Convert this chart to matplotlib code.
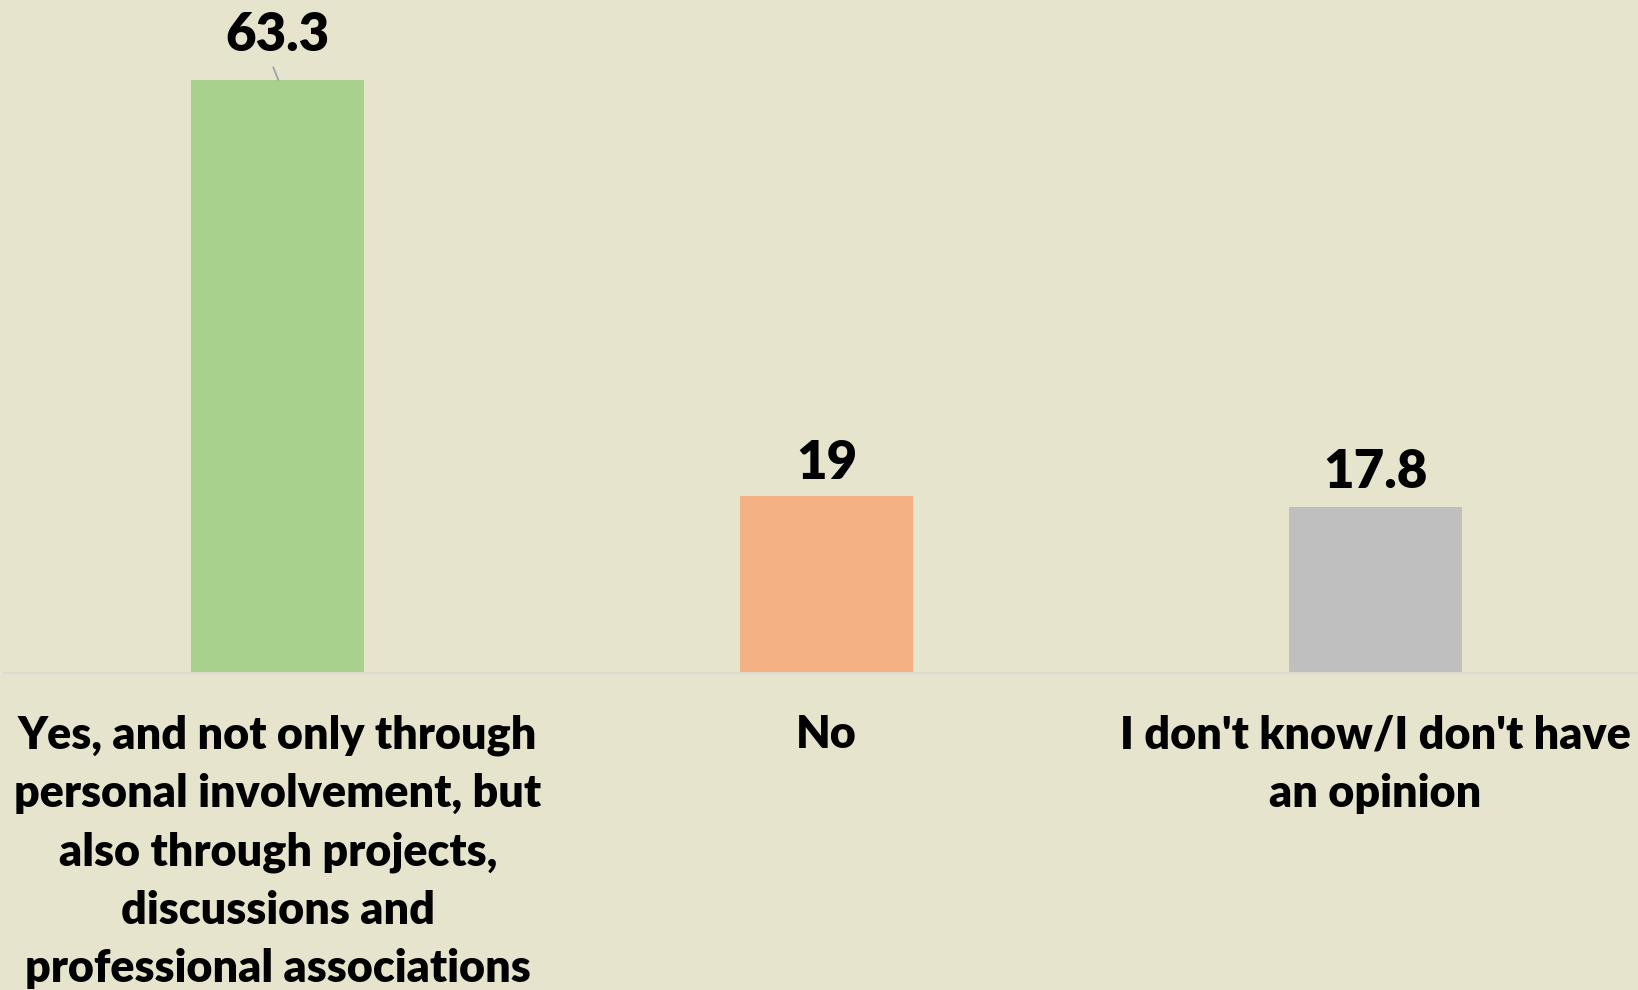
import matplotlib.pyplot as plt

# data
categories = ["Yes, and not only through\npersonal involvement, but\nalso through projects,\ndiscussions and\nprofessional associations",
              "No",
              "I don't know/I don't have\nan opinion"]
values = [63.3, 19, 17.8]
value_labels = ["63.3", "19", "17.8"]
colors = ["#A9D18E", "#F4B183", "#BFBFBF"]

bg = "#E6E4CC"
plt.rcParams['font.family'] = ['Lato', 'DejaVu Sans']

fig = plt.figure(figsize=(16.38, 9.9), dpi=100, facecolor=bg)
ax = fig.add_axes([0.002, 0.319, 0.998, 0.664])
ax.set_facecolor(bg)

x = list(range(len(values)))
ax.bar(x, values, width=0.315, color=colors, zorder=2)

ax.set_xlim(-0.5, -0.5 + 1635 / 549)
ax.set_ylim(0, 70)
ax.axhline(0, color="#DCDAD0", lw=3, zorder=3)

for s in ax.spines.values():
    s.set_visible(False)
ax.set_xticks([])
ax.set_yticks([])

# value labels (first one pulled up with a leader line)
offsets = [32, 23, 25]
for xi, v, lab, off in zip(x, values, value_labels, offsets):
    ax.annotate(lab, (xi, v), xytext=(0, off), textcoords="offset points",
                ha="center", va="center", fontsize=38, fontweight="heavy", color="black")
ax.plot([-0.008, 0.001], [values[0] + 1.3, values[0]], color="#A0A0B0", lw=1.3, zorder=3)

# category labels
for xi, cat in zip(x, categories):
    ax.annotate(cat, (xi, 0), xycoords=("data", "axes fraction"),
                xytext=(0, -29), textcoords="offset points",
                ha="center", va="top", fontsize=32.3, fontweight="heavy",
                color="black", linespacing=1.505, annotation_clip=False)

fig.savefig("out.png", dpi=100, facecolor=bg)
